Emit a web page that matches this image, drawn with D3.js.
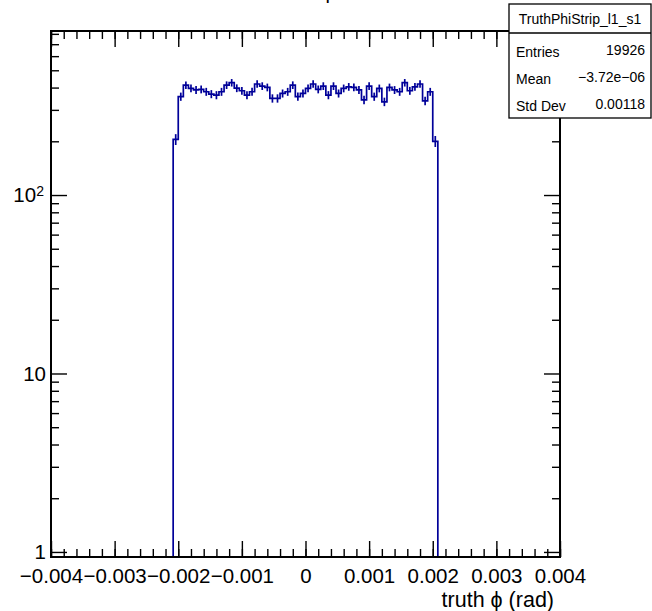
<!DOCTYPE html>
<html>
<head>
<meta charset="utf-8">
<script src="https://cdn.jsdelivr.net/npm/d3@7"></script>
<style>
  body { margin: 0; background: #fff; }
  text { font-family: "Liberation Sans", Arial, sans-serif; }
</style>
</head>
<body>
<div id="draw"></div>
<script>
// histogram binning (100 bins over the x range), filled bins start at bin 24
var xMin = -0.004, xMax = 0.004, nBins = 100, firstBin = 24;
var counts = [205, 356, 413, 396, 388, 391, 379, 368, 363, 379,
              413, 426, 397, 384, 363, 379, 419, 408, 401, 348,
              348, 371, 379, 413, 356, 371, 396, 419, 391, 408,
              363, 408, 371, 396, 404, 401, 388, 341, 408, 356,
              396, 333, 401, 388, 379, 426, 384, 404, 419, 337,
              379, 200];
var xTicks = [-0.004, -0.003, -0.002, -0.001, 0, 0.001, 0.002, 0.003, 0.004];
var xTickLabels = ["\u22120.004", "\u22120.003", "\u22120.002", "\u22120.001", "0", "0.001", "0.002", "0.003", "0.004"];
var yTicks = [1, 10, 100];
var yTickLabels = ["1", "10", "10"];
var statsNames = ["Entries", "Mean", "Std Dev"];
var statsValues = ["19926", "\u22123.72e\u221206", "0.00118"];
var histName = "TruthPhiStrip_l1_s1";

var W = 652, H = 611;
var fL = 51, fR = 560, fT = 31, fB = 557;
var yLo = 0.937, yHi = 830;
var blue = "#000099";

var svg = d3.select('#draw').append('svg')
    .attr('width', W).attr('height', H);

var x = d3.scaleLinear().domain([xMin, xMax]).range([fL, fR]);
var y = d3.scaleLog().domain([yLo, yHi]).range([fB, fT]);
var binW = (xMax - xMin) / nBins;

// minor tick values
var xMinor = d3.range(0, 41).map(function(i){ return xMin + i * 0.0002; });
var yMinor = [];
[1, 10, 100].forEach(function(dec){
    for (var m = 2; m <= 9; m++){ if (dec * m < yHi) yMinor.push(dec * m); }
});

// title (only the descender shows above the frame)
svg.append('text').attr('x', 331).attr('y', -1)
    .attr('text-anchor', 'middle').attr('font-size', 20).text('p');

// histogram line
var pts = [[firstBin, yLo]];
counts.forEach(function(c, i){ pts.push([firstBin + i, c]); });
pts.push([firstBin + counts.length, counts[counts.length - 1]]);
pts.push([firstBin + counts.length, yLo]);

var line = d3.line()
    .x(function(d){ return x(xMin + d[0] * binW); })
    .y(function(d){ return y(d[1]); })
    .curve(d3.curveStepAfter);

var plot = svg.append('g');
plot.append('path').datum(pts)
    .attr('d', line)
    .attr('fill', 'none').attr('stroke', blue).attr('stroke-width', 1.7);

// error bars
plot.selectAll('line.err').data(counts).enter().append('line')
    .attr('class', 'err')
    .attr('x1', function(d, i){ return x(xMin + (firstBin + i + 0.5) * binW); })
    .attr('x2', function(d, i){ return x(xMin + (firstBin + i + 0.5) * binW); })
    .attr('y1', function(d){ return y(d - Math.sqrt(d)); })
    .attr('y2', function(d){ return y(d + Math.sqrt(d)); })
    .attr('stroke', blue).attr('stroke-width', 1.7);

// axes
function clean(g){ g.select('.domain').remove(); g.selectAll('line').attr('stroke', '#000').attr('stroke-width', 1.4); }

svg.append('g').attr('transform', 'translate(0,' + fB + ')')
    .call(d3.axisBottom(x).tickValues(xMinor).tickSizeInner(-8).tickFormat(''))
    .call(clean);
svg.append('g').attr('transform', 'translate(0,' + fB + ')')
    .call(d3.axisBottom(x).tickValues(xTicks).tickSizeInner(-16).tickPadding(11)
        .tickFormat(function(d, i){ return xTickLabels[i]; }))
    .call(clean)
    .selectAll('text').attr('font-size', 20.5).attr('fill', '#000')
    .attr('font-family', '"Liberation Sans", Arial, sans-serif');

svg.append('g').attr('transform', 'translate(0,' + fT + ')')
    .call(d3.axisBottom(x).tickValues(xMinor).tickSizeInner(8).tickFormat(''))
    .call(clean);
svg.append('g').attr('transform', 'translate(0,' + fT + ')')
    .call(d3.axisBottom(x).tickValues(xTicks).tickSizeInner(16).tickFormat(''))
    .call(clean);

svg.append('g').attr('transform', 'translate(' + fL + ',0)')
    .call(d3.axisLeft(y).tickValues(yMinor).tickSizeInner(-8).tickFormat(''))
    .call(clean);
var yax = svg.append('g').attr('transform', 'translate(' + fL + ',0)')
    .call(d3.axisLeft(y).tickValues(yTicks).tickSizeInner(-16).tickPadding(5)
        .tickFormat(function(d, i){ return yTickLabels[i]; }))
    .call(clean);
yax.selectAll('text').attr('font-size', 20.5).attr('fill', '#000')
    .attr('font-family', '"Liberation Sans", Arial, sans-serif')
    .each(function(d){
        if (d === 100){
            var t = d3.select(this);
            t.attr('dx', '-0.1em');
            t.append('tspan').attr('dy', '-0.45em').attr('font-size', 14).text('2');
        }
    });

svg.append('g').attr('transform', 'translate(' + fR + ',0)')
    .call(d3.axisLeft(y).tickValues(yMinor).tickSizeInner(8).tickFormat(''))
    .call(clean);
svg.append('g').attr('transform', 'translate(' + fR + ',0)')
    .call(d3.axisLeft(y).tickValues(yTicks).tickSizeInner(16).tickFormat(''))
    .call(clean);

// frame
svg.append('rect').attr('x', fL).attr('y', fT)
    .attr('width', fR - fL).attr('height', fB - fT)
    .attr('fill', 'none').attr('stroke', '#000').attr('stroke-width', 2);

// x axis title
svg.append('text').attr('x', 554).attr('y', 607)
    .attr('text-anchor', 'end').attr('font-size', 21.5)
    .text('truth \u03D5 (rad)');

// stats box
var bx = 509, by = 4, bw = 142, bh = 114;
svg.append('rect').attr('x', bx).attr('y', by).attr('width', bw).attr('height', bh)
    .attr('fill', '#fff').attr('stroke', '#000').attr('stroke-width', 1.3);
svg.append('line').attr('x1', bx).attr('x2', bx + bw).attr('y1', 33).attr('y2', 33)
    .attr('stroke', '#000').attr('stroke-width', 1.3);
svg.append('text').attr('x', bx + bw / 2).attr('y', 24)
    .attr('text-anchor', 'middle').attr('font-size', 14).text(histName);
statsNames.forEach(function(n, i){
    var by2 = 57 + i * 27;
    svg.append('text').attr('x', 516).attr('y', by2).attr('font-size', 14).text(n);
    svg.append('text').attr('x', 645).attr('y', by2 - 2).attr('text-anchor', 'end')
        .attr('font-size', 14).text(statsValues[i]);
});
</script>
</body>
</html>
